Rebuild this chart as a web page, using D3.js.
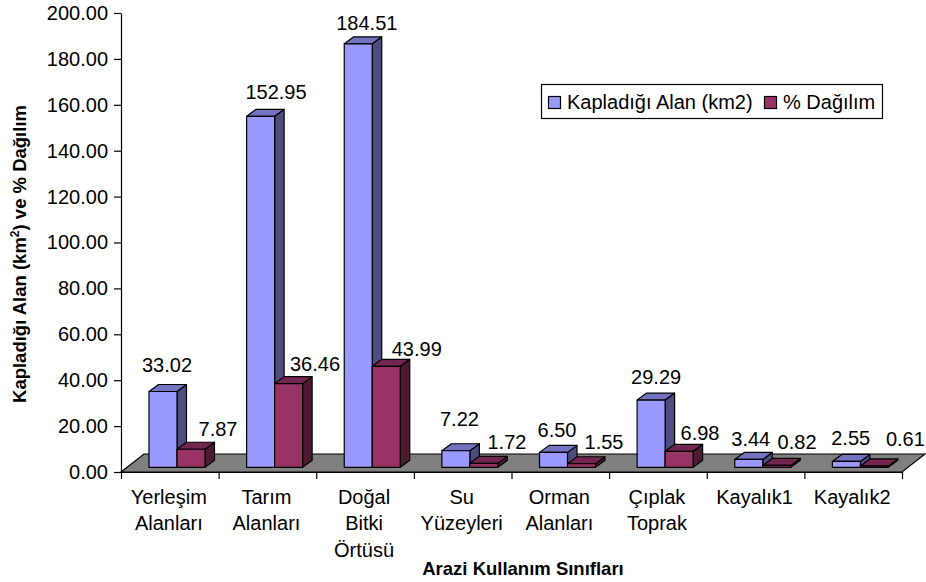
<!DOCTYPE html>
<html>
<head>
<meta charset="utf-8">
<script src="https://cdnjs.cloudflare.com/ajax/libs/d3/7.8.5/d3.min.js"></script>
<style>
  html, body { margin: 0; padding: 0; background: #fff; }
  svg { display: block; }
  text { font-family: "Liberation Sans", Arial, sans-serif; fill: #000; }
</style>
</head>
<body>
<svg width="926" height="582"></svg>
<script>
const categories = [
  ['Yerleşim', 'Alanları'],
  ['Tarım', 'Alanları'],
  ['Doğal', 'Bitki', 'Örtüsü'],
  ['Su', 'Yüzeyleri'],
  ['Orman', 'Alanları'],
  ['Çıplak', 'Toprak'],
  ['Kayalık1'],
  ['Kayalık2']
];
const areaValues = [33.02, 152.95, 184.51, 7.22, 6.50, 29.29, 3.44, 2.55];
const shareValues = [7.87, 36.46, 43.99, 1.72, 1.55, 6.98, 0.82, 0.61];
const seriesNames = ['Kapladığı Alan (km2)', '% Dağılım'];
const yTicks = [0, 20, 40, 60, 80, 100, 120, 140, 160, 180, 200];

// hand placed label nudges, [dx from bar centre, dy above bar top]
const areaLabelNudge = [[4, 13], [15.4, 10], [8.6, 6.6], [3.6, 18], [3.5, 8.4], [5, 9], [2, 6.7], [4.3, 9.7]];
const shareLabelNudge = [[27, 6.3], [26.4, 5.9], [30.5, 3.6], [23.1, 7.4], [22.5, 7.7], [20.9, 4.3], [20.3, 9.4], [31, 13.2]];

const svg = d3.select('svg');
const margin = { top: 13, left: 121, right: 902, bottom: 472 };
const depth = { x: 9.5, y: 7 };
const floor = { x: 23, y: 18, inset: 4.7 };
const fontSize = 20;
const titleSize = 18.5;

const palette = [
  { front: '#9999ff', side: '#4d4d80', top: '#7373bf' },
  { front: '#993366', side: '#4d1a33', top: '#732650' }
];

const yScale = d3.scaleLinear().domain([0, 200]).range([margin.bottom, margin.top]);
const xScale = d3.scaleBand().domain(d3.range(categories.length)).range([margin.left, margin.right]);
const edgeScale = d3.scaleLinear().domain([0, categories.length]).range([margin.left, margin.right]);
const seriesScale = d3.scaleBand().domain([0, 1]).range([28, 84]);

// floor of the 3d plot
svg.append('path')
  .attr('d', `M${margin.left},${margin.bottom}L${margin.left + floor.x},${margin.bottom - floor.y}`
    + `L${margin.right + floor.x},${margin.bottom - floor.y}L${margin.right},${margin.bottom}Z`)
  .attr('fill', '#808080')
  .attr('stroke', '#000')
  .attr('stroke-width', 1.2);

// axes
const yAxisG = svg.append('g')
  .attr('transform', `translate(${margin.left},0)`)
  .call(d3.axisLeft(yScale).tickValues(yTicks).tickFormat(d3.format('.2f')).tickSize(7).tickSizeOuter(0));
yAxisG.selectAll('text').attr('font-size', fontSize).attr('font-family', null).attr('x', -13);

const xAxisG = svg.append('g')
  .attr('transform', `translate(0,${margin.bottom})`)
  .call(d3.axisBottom(edgeScale).tickValues(d3.range(categories.length + 1)).tickFormat('').tickSize(7).tickSizeOuter(0));

svg.selectAll('.domain').attr('stroke', '#000').attr('stroke-width', 1.2);
svg.selectAll('.tick line').attr('stroke', '#000').attr('stroke-width', 1.2);

// bars, one extruded box per value
const barData = [];
categories.forEach((c, i) => {
  barData.push({ i, s: 0, v: areaValues[i], nudge: areaLabelNudge[i] });
  barData.push({ i, s: 1, v: shareValues[i], nudge: shareLabelNudge[i] });
});

const baseY = yScale(0) - floor.inset;
const barTop = d => yScale(d.v) - floor.inset;
const barX = d => xScale(d.i) + seriesScale(d.s);
const bw = seriesScale.bandwidth();

const bars = svg.selectAll('.bar').data(barData).enter().append('g')
  .attr('class', 'bar')
  .attr('stroke', '#000')
  .attr('stroke-width', 1.2)
  .attr('stroke-linejoin', 'round');

bars.append('path')
  .attr('fill', d => palette[d.s].side)
  .attr('d', d => {
    const r = barX(d) + bw;
    return `M${r},${barTop(d)}l${depth.x},${-depth.y}L${r + depth.x},${baseY - depth.y}L${r},${baseY}Z`;
  });
bars.append('path')
  .attr('fill', d => palette[d.s].top)
  .attr('d', d => `M${barX(d)},${barTop(d)}l${depth.x},${-depth.y}h${bw}l${-depth.x},${depth.y}Z`);
bars.append('rect')
  .attr('fill', d => palette[d.s].front)
  .attr('x', barX)
  .attr('y', barTop)
  .attr('width', bw)
  .attr('height', d => baseY - barTop(d));

// value labels
svg.selectAll('.value').data(barData).enter().append('text')
  .attr('class', 'value')
  .attr('font-size', fontSize)
  .attr('text-anchor', 'middle')
  .attr('x', d => barX(d) + bw / 2 + d.nudge[0])
  .attr('y', d => barTop(d) - depth.y - d.nudge[1])
  .text(d => d.v.toFixed(2));

// category labels
const catLabels = svg.selectAll('.cat').data(categories).enter().append('text')
  .attr('class', 'cat')
  .attr('font-size', fontSize)
  .attr('text-anchor', 'middle');
catLabels.selectAll('tspan').data((d, i) => d.map(line => ({ line, i }))).enter().append('tspan')
  .attr('x', d => xScale(d.i) + xScale.bandwidth() / 2 - 1)
  .attr('y', (d, j) => 504 + j * 26.3)
  .text(d => d.line);

// axis titles
svg.append('text')
  .attr('x', 523)
  .attr('y', 575)
  .attr('text-anchor', 'middle')
  .attr('font-size', titleSize)
  .attr('font-weight', 'bold')
  .text('Arazi Kullanım Sınıfları');

const yTitle = svg.append('text')
  .attr('transform', 'translate(25.5,254) rotate(-90)')
  .attr('text-anchor', 'middle')
  .attr('font-size', titleSize)
  .attr('font-weight', 'bold');
yTitle.append('tspan').text('Kapladığı Alan (km');
yTitle.append('tspan').attr('font-size', 12).attr('dy', -7).text('2');
yTitle.append('tspan').attr('dy', 7).text(') ve % Dağılım');

// legend
const legend = svg.append('g');
legend.append('rect')
  .attr('x', 541.5).attr('y', 84.5).attr('width', 341).attr('height', 34)
  .attr('fill', '#fff').attr('stroke', '#000').attr('stroke-width', 1.2);
const legendX = [548, 764];
seriesNames.forEach((name, i) => {
  legend.append('rect')
    .attr('x', legendX[i] + 0.5).attr('y', 96.5).attr('width', 12).attr('height', 12)
    .attr('fill', palette[i].front).attr('stroke', '#000').attr('stroke-width', 1.2);
  legend.append('text')
    .attr('x', legendX[i] + 19).attr('y', 109).attr('font-size', fontSize)
    .text(name);
});
</script>
</body>
</html>
